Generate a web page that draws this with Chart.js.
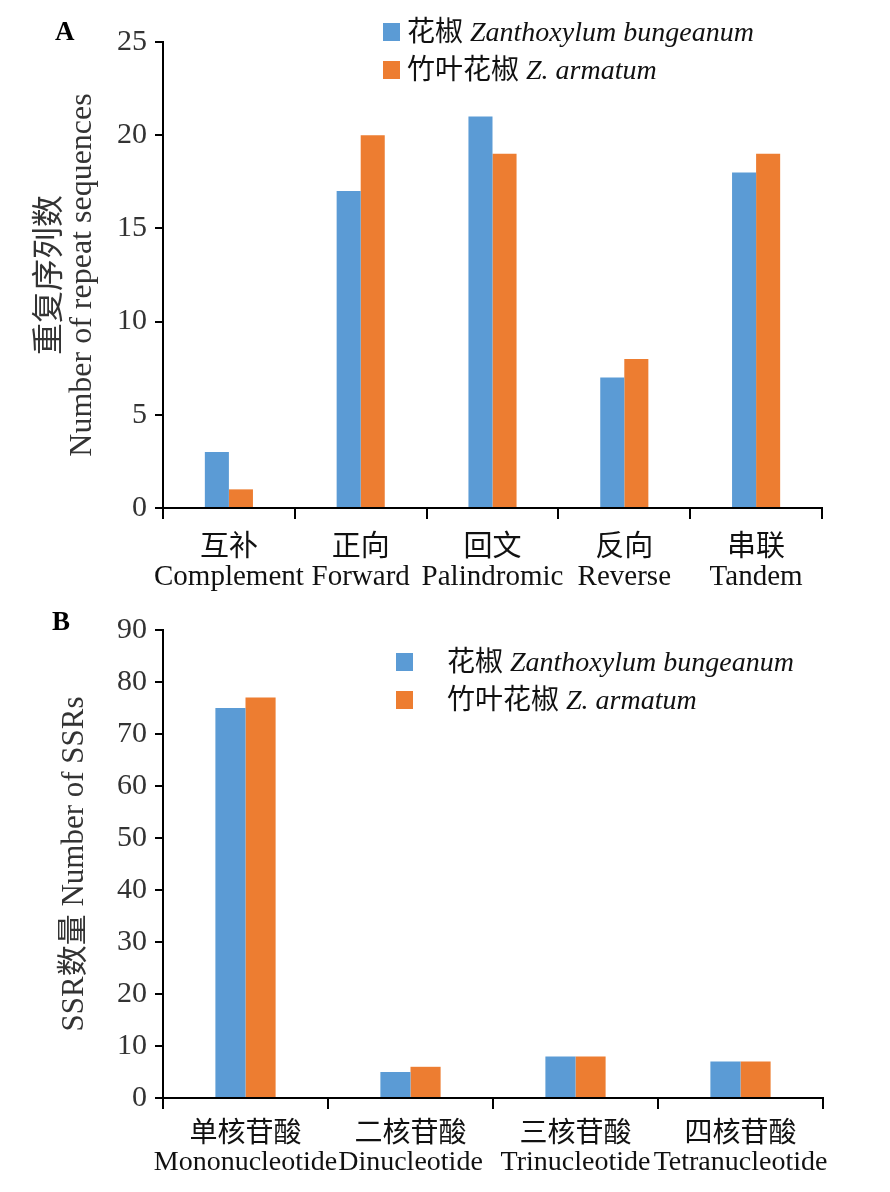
<!DOCTYPE html>
<html>
<head>
<meta charset="utf-8">
<script src="https://cdn.jsdelivr.net/npm/chart.js@4.4.0/dist/chart.umd.min.js"></script>
<style>
  body { margin: 0; background: #fff; width: 890px; height: 1192px; position: relative; overflow: hidden; }
  .panel { position: absolute; left: 0; width: 890px; }
  .letter { position: absolute; font: bold 27px "Liberation Serif", serif; color: #000; }
  .swatch { position: absolute; width: 17px; height: 18px; }
  .legend-text { position: absolute; font: 28px "Liberation Serif", "Noto Sans CJK SC", serif; line-height: 30px; color: #111; white-space: nowrap; }
</style>
</head>
<body>

<div class="panel" style="top:0;height:600px;"><canvas id="chartA"></canvas></div>
<div class="panel" style="top:600px;height:592px;"><canvas id="chartB"></canvas></div>

<div class="letter" style="left:55px;top:16px;">A</div>
<div class="letter" style="left:52px;top:606px;">B</div>

<!-- legend A -->
<div class="swatch" style="left:383px;top:23px;background:#5B9BD5;"></div>
<div class="legend-text" style="left:407px;top:17px;">花椒 <i>Zanthoxylum bungeanum</i></div>
<div class="swatch" style="left:383px;top:61px;background:#ED7D31;"></div>
<div class="legend-text" style="left:407px;top:55px;">竹叶花椒 <i>Z. armatum</i></div>

<!-- legend B -->
<div class="swatch" style="left:396px;top:653px;background:#5B9BD5;"></div>
<div class="legend-text" style="left:447px;top:647px;">花椒 <i>Zanthoxylum bungeanum</i></div>
<div class="swatch" style="left:396px;top:691px;background:#ED7D31;"></div>
<div class="legend-text" style="left:447px;top:685px;">竹叶花椒 <i>Z. armatum</i></div>

<script>
// --- Data: panel A (repeat sequences) ---
const repeatLabels = [
  ['互补', 'Complement'],
  ['正向', 'Forward'],
  ['回文', 'Palindromic'],
  ['反向', 'Reverse'],
  ['串联', 'Tandem']
];
const repeatBungeanum = [3, 17, 21, 7, 18];
const repeatArmatum = [1, 20, 19, 8, 19];
const repeatTitle = ['重复序列数', 'Number of repeat sequences'];

// --- Data: panel B (SSRs) ---
const ssrLabels = [
  ['单核苷酸', 'Mononucleotide'],
  ['二核苷酸', 'Dinucleotide'],
  ['三核苷酸', 'Trinucleotide'],
  ['四核苷酸', 'Tetranucleotide']
];
const ssrBungeanum = [75, 5, 8, 7];
const ssrArmatum = [77, 6, 8, 7];
const ssrTitle = 'SSR数量 Number of SSRs';

const seriesNames = ['花椒 Zanthoxylum bungeanum', '竹叶花椒 Z. armatum'];

const BLUE = '#5B9BD5';
const ORANGE = '#ED7D31';
const FONT = '"Liberation Serif", "Noto Sans CJK SC", serif';

// --- Helper: build one grouped bar chart ---
function makeChart(canvasId, cfg) {
  const ctx = document.getElementById(canvasId).getContext('2d');
  return new Chart(ctx, {
    type: 'bar',
    data: {
      labels: cfg.labels,
      datasets: [
        { label: seriesNames[0], data: cfg.blue, backgroundColor: BLUE, borderWidth: 0 },
        { label: seriesNames[1], data: cfg.orange, backgroundColor: ORANGE, borderWidth: 0 }
      ]
    },
    options: {
      responsive: true,
      maintainAspectRatio: false,
      animation: false,
      datasets: { bar: { categoryPercentage: 0.365, barPercentage: 1.0 } },
      layout: { padding: { top: cfg.padTop, right: cfg.padRight, left: 0, bottom: 0 } },
      plugins: { legend: { display: false }, tooltip: { enabled: false } },
      scales: {
        x: {
          offset: true,
          grid: { display: true, drawOnChartArea: false, offset: true, tickLength: 11, color: '#000', lineWidth: 2 },
          border: { display: true, color: '#000', width: 2 },
          ticks: {
            maxRotation: 0, autoSkip: false, padding: cfg.xPad, color: '#111',
            font: { family: FONT, size: cfg.xSize, lineHeight: 1.0 }
          },
          afterFit: function(scale) { scale.height = cfg.xHeight; }
        },
        y: {
          min: 0, max: cfg.max,
          grid: { display: true, drawOnChartArea: false, tickLength: 8, color: '#000', lineWidth: 2 },
          border: { display: true, color: '#000', width: 2 },
          ticks: {
            stepSize: cfg.step, padding: 8, color: '#333',
            font: { family: FONT, size: 30 }
          },
          title: {
            display: true, text: cfg.title, color: '#333',
            font: { family: FONT, size: cfg.titleSize, lineHeight: 1.0 },
            padding: { top: cfg.titlePad, bottom: 0 }
          },
          afterFit: function(scale) { scale.width = 163; }
        }
      }
    }
  });
}

document.addEventListener('DOMContentLoaded', function() {
  makeChart('chartA', {
    labels: repeatLabels, blue: repeatBungeanum, orange: repeatArmatum,
    max: 25, step: 5, title: repeatTitle, titlePad: 35, titleSize: 32,
    padTop: 42, padRight: 68, xHeight: 92, xPad: 15, xSize: 29
  });
  makeChart('chartB', {
    labels: ssrLabels, blue: ssrBungeanum, orange: ssrArmatum,
    max: 90, step: 10, title: ssrTitle, titlePad: 59, titleSize: 31,
    padTop: 30, padRight: 67, xHeight: 94, xPad: 12, xSize: 28
  });
});
</script>
</body>
</html>
